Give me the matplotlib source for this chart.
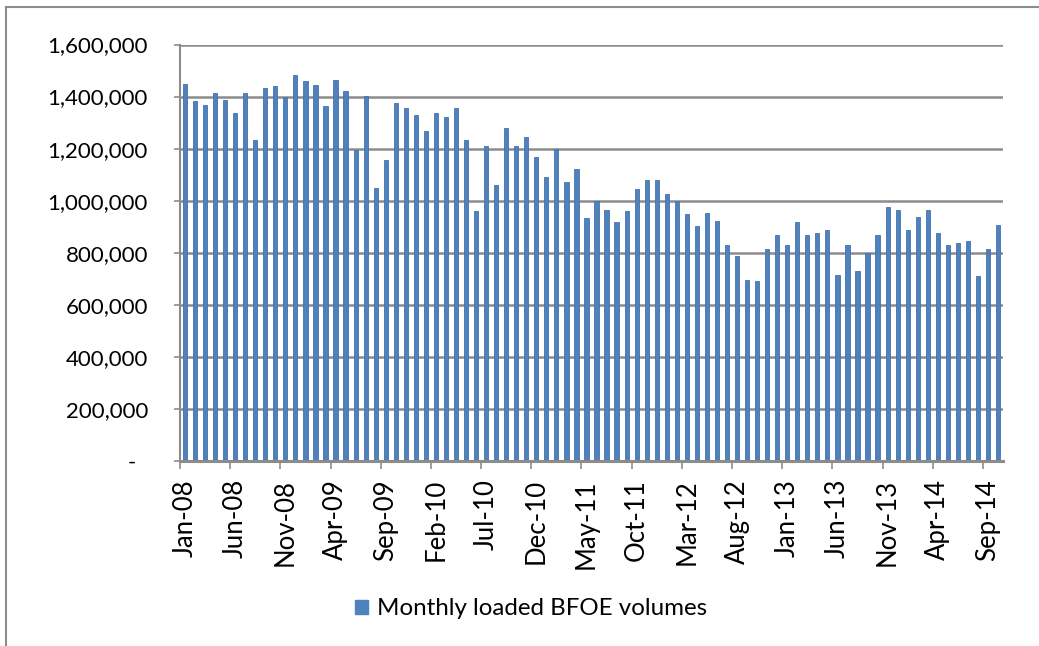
import matplotlib
matplotlib.use("Agg")
import matplotlib.pyplot as plt
from matplotlib.lines import Line2D
from matplotlib.patches import Patch
from matplotlib.ticker import FixedLocator, FuncFormatter

plt.rcParams["font.family"] = ["Lato", "DejaVu Sans"]

# ---------------------------------------------------------------------------
# Data: monthly loaded BFOE volumes, Jan-08 .. Oct-14
# ---------------------------------------------------------------------------
MONTHS = ["Jan", "Feb", "Mar", "Apr", "May", "Jun",
          "Jul", "Aug", "Sep", "Oct", "Nov", "Dec"]
month_labels = [f"{m}-{y:02d}" for y in range(8, 15) for m in MONTHS][:82]

volumes = [
    1449000, 1382000, 1367000, 1415000, 1385000, 1338000, 1413000, 1233000,
    1432000, 1440000, 1400000, 1482000, 1458000, 1446000, 1365000, 1462000,
    1423000, 1194000, 1403000, 1049000, 1156000, 1377000, 1356000, 1331000,
    1269000, 1338000, 1322000, 1358000, 1233000, 961000, 1211000, 1062000,
    1279000, 1212000, 1243000, 1166000, 1092000, 1198000, 1071000, 1123000,
    935000, 999000, 966000, 918000, 961000, 1045000, 1078000, 1078000,
    1026000, 999000, 948000, 904000, 953000, 922000, 828000, 789000,
    694000, 691000, 816000, 870000, 828000, 917000, 867000, 876000,
    889000, 713000, 828000, 730000, 799000, 868000, 976000, 963000,
    886000, 939000, 963000, 876000, 829000, 836000, 847000, 710000,
    815000, 905000,
]
series_name = "Monthly loaded BFOE volumes"

y_ticks = [0, 200000, 400000, 600000, 800000, 1000000, 1200000, 1400000, 1600000]
label_step = 5

BAR_COLOR = "#4F81BD"
GRID_COLOR = "#8C8C8C"

fig = plt.figure(figsize=(10.39, 6.46), dpi=100)
ax = fig.add_axes([0.1732, 0.2864, 0.7922, 0.6447])

x = list(range(len(volumes)))
ax.bar(x, volumes, width=0.42, color=BAR_COLOR, edgecolor="#4573AE",
       linewidth=0.6, zorder=3)

ax.set_xlim(-0.5, len(volumes) - 0.5)
ax.set_ylim(0, 1600000)

# horizontal gridlines
ax.yaxis.set_major_locator(FixedLocator(y_ticks))
ax.yaxis.set_major_formatter(FuncFormatter(lambda v, p: "-  " if v == 0 else f"{int(v):,}"))
ax.grid(axis="y", color=GRID_COLOR, linewidth=1.8, zorder=0)
ax.tick_params(axis="y", length=4, width=1.2, color=GRID_COLOR, pad=19,
               labelsize=16, labelcolor="black")

# x labels at category centres, tick marks at category edges
lab_pos = x[::label_step]
ax.set_xticks(lab_pos)
ax.set_xticklabels([month_labels[i] for i in lab_pos], rotation=90, fontsize=18.5)
ax.tick_params(axis="x", which="major", length=0, pad=13)
ax.set_xticks([p - 0.5 for p in lab_pos], minor=True)
ax.tick_params(axis="x", which="minor", length=6, width=1.2, color=GRID_COLOR)

for side in ["top", "right"]:
    ax.spines[side].set_visible(False)
ax.spines["left"].set_color(GRID_COLOR)
ax.spines["left"].set_linewidth(1.5)
ax.spines["bottom"].set_color(GRID_COLOR)
ax.spines["bottom"].set_linewidth(2.2)
ax.spines["bottom"].set_zorder(4)

fig.legend(handles=[Patch(facecolor=BAR_COLOR, edgecolor=BAR_COLOR, label=series_name)],
           loc="center", bbox_to_anchor=(0.511, 0.0573), frameon=False,
           fontsize=17.4, handlelength=0.55, handleheight=0.55, handletextpad=0.35)

# chart border (top and left only, the rest is cropped)
fig.add_artist(Line2D([0.0055, 1.0], [0.9896, 0.9896], color="#8C8C8C", linewidth=1.5))
fig.add_artist(Line2D([0.0055, 0.0055], [0.0, 0.9896], color="#8C8C8C", linewidth=1.5))

fig.savefig("out.png", dpi=100)
